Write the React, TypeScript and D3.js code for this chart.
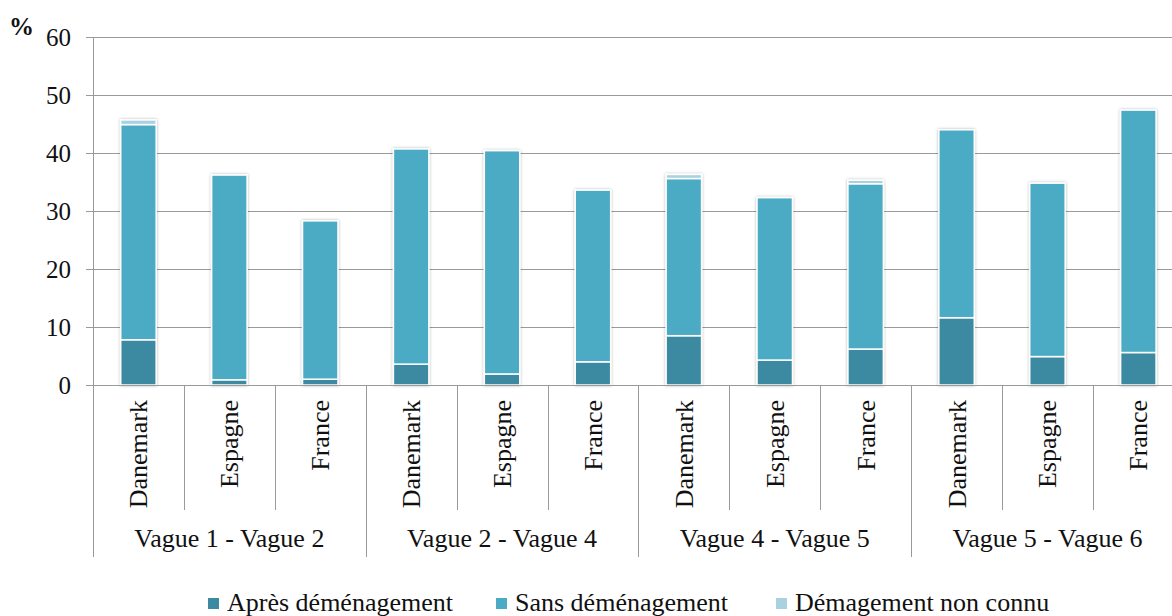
import { useRef, useEffect } from 'react';
import * as d3 from 'd3';

const W = 1172, H = 616;
const M = { top: 37, left: 93, bottom: 231 };
const STEP = 90.9;

const WAVES = ['Vague 1 - Vague 2', 'Vague 2 - Vague 4', 'Vague 4 - Vague 5', 'Vague 5 - Vague 6'];
const COUNTRIES = ['Danemark', 'Espagne', 'France'];
const APRES = [7.8, 0.9, 1.0, 3.6, 1.9, 4.0, 8.5, 4.3, 6.2, 11.6, 4.9, 5.6];
const SANS = [37.1, 35.3, 27.3, 37.1, 38.5, 29.6, 27.1, 28.0, 28.5, 32.4, 29.9, 41.8];
const INCONNU = [0.8, 0, 0, 0, 0, 0, 0.7, 0, 0.6, 0, 0, 0];
const SERIES = ['Après déménagement', 'Sans déménagement', 'Démagement non connu'];
const COLORS = ['#3b8aa1', '#4babc5', '#a8d2df'];
const Y_TICKS = [0, 10, 20, 30, 40, 50, 60];

const FONT = '"Liberation Serif", "Times New Roman", serif';

export default function App() {
  const ref = useRef<SVGSVGElement>(null);

  useEffect(() => {
    const svg = d3.select(ref.current);
    svg.selectAll('*').remove();

    const rows = APRES.map((a, i) => ({ i, a, s: SANS[i], u: INCONNU[i] }));
    const n = rows.length;
    const x = d3.scaleBand<number>().domain(d3.range(n)).range([M.left, M.left + n * STEP]);
    const y = d3.scaleLinear().domain([0, 60]).range([H - M.bottom, M.top]);
    const y0 = y(0);
    const bw = x.bandwidth() * 0.39;

    const defs = svg.append('defs');
    const f = defs.append('filter').attr('id', 'sh').attr('x', '-30%').attr('y', '-10%').attr('width', '160%').attr('height', '120%');
    f.append('feDropShadow').attr('dx', 0).attr('dy', 0).attr('stdDeviation', 1.6)
      .attr('flood-color', '#000').attr('flood-opacity', 0.3);

    // gridlines + y labels
    svg.append('g').selectAll('line').data(Y_TICKS).join('line')
      .attr('x1', M.left - 7).attr('x2', W)
      .attr('y1', d => Math.round(y(d)) + 0.5).attr('y2', d => Math.round(y(d)) + 0.5)
      .attr('stroke', '#9a9a9a').attr('stroke-width', 1);
    svg.append('g').selectAll('text').data(Y_TICKS).join('text')
      .attr('x', 71).attr('y', d => y(d) + 8.5).attr('text-anchor', 'end')
      .attr('font-family', FONT).attr('font-size', 25).attr('fill', '#111').text(d => d);
    svg.append('text').attr('x', 9).attr('y', 35).attr('font-family', FONT)
      .attr('font-size', 25).attr('font-weight', 'bold').attr('fill', '#111').text('%');

    // bars
    const stack = d3.stack<typeof rows[0]>().keys(['a', 's', 'u']);
    const layers = stack(rows as any);
    const bars = svg.append('g').attr('filter', 'url(#sh)');
    layers.forEach((layer, k) => {
      bars.append('g').selectAll('rect').data(layer.filter(d => d[1] - d[0] > 0)).join('rect')
        .attr('x', d => (x(d.data.i) ?? 0) + (x.bandwidth() - bw) / 2)
        .attr('width', bw)
        .attr('y', d => y(d[1]))
        .attr('height', d => y(d[0]) - y(d[1]))
        .attr('fill', COLORS[k]).attr('stroke', '#fff').attr('stroke-width', 1.5);
    });

    // axes
    const axis = svg.append('g').attr('stroke', '#9a9a9a').attr('stroke-width', 1);
    axis.append('line').attr('x1', M.left + 0.5).attr('x2', M.left + 0.5).attr('y1', M.top).attr('y2', 557);
    axis.append('line').attr('x1', M.left).attr('x2', W).attr('y1', Math.round(y0) + 0.5).attr('y2', Math.round(y0) + 0.5);
    axis.selectAll('line.sep').data(d3.range(1, n + 1)).join('line').attr('class', 'sep')
      .attr('x1', d => Math.round(M.left + d * STEP) + 0.5).attr('x2', d => Math.round(M.left + d * STEP) + 0.5)
      .attr('y1', y0).attr('y2', d => (d % 3 === 0 ? 557 : 510));

    // category labels
    svg.append('g').selectAll('text').data(d3.range(n)).join('text')
      .attr('transform', d => `translate(${(x(d) ?? 0) + x.bandwidth() / 2 + 9},400) rotate(-90)`)
      .attr('text-anchor', 'end').attr('font-family', FONT).attr('font-size', 26).attr('fill', '#111')
      .text(d => COUNTRIES[d % 3]);

    // wave labels
    svg.append('g').selectAll('text').data(WAVES).join('text')
      .attr('x', (_, g) => M.left + (g * 3 + 1.5) * STEP).attr('y', 547).attr('text-anchor', 'middle')
      .attr('font-family', FONT).attr('font-size', 26).attr('fill', '#111').text(d => d);

    // legend
    const LX = [208, 496, 776];
    const lg = svg.append('g').selectAll('g').data(SERIES).join('g')
      .attr('transform', (_, k) => `translate(${LX[k]},0)`);
    lg.append('rect').attr('x', 0).attr('y', 598).attr('width', 11).attr('height', 11).attr('fill', (_, k) => COLORS[k]);
    lg.append('text').attr('x', 19).attr('y', 611).attr('font-family', FONT).attr('font-size', 26)
      .attr('fill', '#111').text(d => d);
  }, []);

  return (
    <svg ref={ref} width={W} height={H} viewBox={`0 0 ${W} ${H}`}
      style={{ position: 'absolute', left: 0, top: 0, background: '#fff' }} />
  );
}
